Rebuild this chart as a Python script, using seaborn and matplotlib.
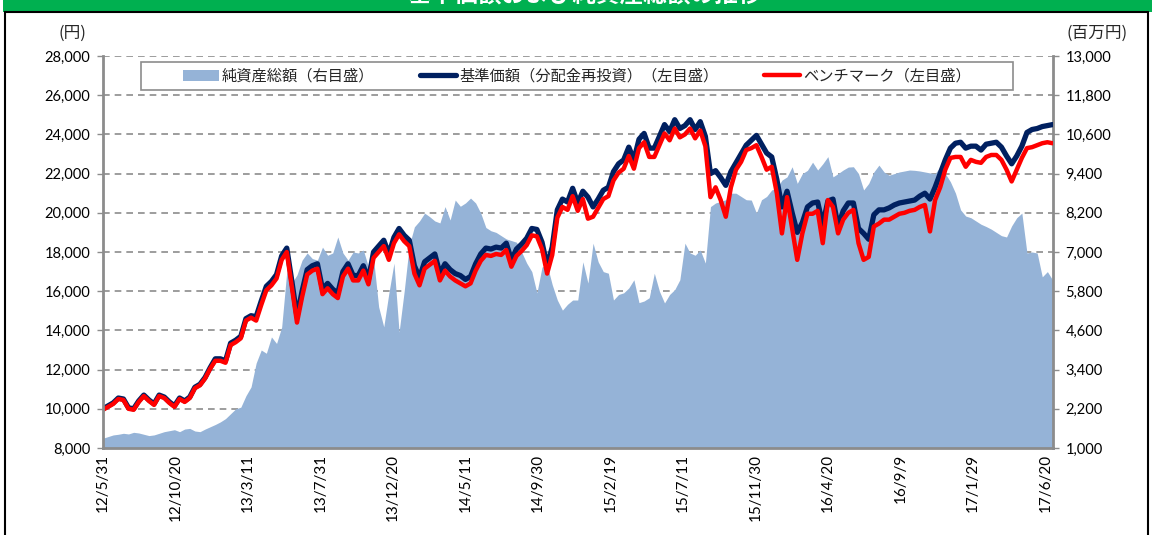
import pandas as pd
import numpy as np
import matplotlib
matplotlib.use('Agg')
import matplotlib.pyplot as plt
from matplotlib.patches import Rectangle
from matplotlib.font_manager import FontProperties
import seaborn as sns

# values, one point every 10 days from 2012/5/31
start_date = '2012-05-31'

# 純資産総額 (百万円, right axis)
nav_total = [1300, 1350, 1400, 1420, 1450, 1430, 1480, 1460, 1420, 1380,
             1400, 1450, 1500, 1530, 1560, 1500, 1580, 1600, 1520, 1500,
             1580, 1650, 1720, 1800, 1900, 2050, 2200, 2250, 2600, 2870,
             3600, 4000, 3900, 4400, 4200, 4700, 6400, 6050, 6300, 6750,
             6970, 6800, 6750, 7150, 6900, 6970, 7460, 6970, 6750, 7000,
             6970, 7060, 6540, 6800, 5320, 4710, 5740, 6660, 4550, 5800,
             7200, 7770, 7950, 8190, 8080, 7950, 7890, 8390, 7980, 8590,
             8400, 8500, 8650, 8500, 8190, 7750, 7650, 7600, 7500, 7400,
             7350, 7300, 7000, 6660, 6400, 5750, 6540, 6600, 6000, 5530,
             5220, 5400, 5530, 5530, 6700, 6050, 7270, 6700, 6400, 6350,
             5530, 5700, 5750, 5900, 6150, 5450, 5500, 5600, 6350, 5800,
             5440, 5700, 5850, 6150, 7270, 6970, 6900, 7060, 6660, 8390,
             8500, 8550, 8600, 8800, 8800, 8700, 8600, 8590, 8190, 8600,
             8700, 8900, 8950, 9200, 9300, 9610, 9100, 9400, 9500, 9750,
             9510, 9700, 9920, 9300, 9400, 9510, 9600, 9610, 9400, 8900,
             9100, 9450, 9660, 9450, 9350, 9400, 9450, 9480, 9510, 9500,
             9480, 9450, 9420, 9400, 9610, 9400, 9150, 8800, 8290, 8100,
             8050, 7950, 7850, 7780, 7700, 7600, 7500, 7460, 7800, 8050,
             8190, 6970, 7000, 6970, 6240, 6400, 6150]

# 基準価額(分配金再投資) (円, left axis)
base_price = [10000, 10150, 10300, 10550, 10500, 10050, 10000, 10400, 10700, 10450,
              10250, 10700, 10600, 10350, 10150, 10550, 10400, 10600, 11100, 11250,
              11600, 12100, 12550, 12550, 12450, 13350, 13500, 13700, 14600, 14750,
              14700, 15500, 16250, 16500, 16850, 17800, 18200, 16500, 14700, 16000,
              17100, 17300, 17400, 16100, 16400, 16100, 15900, 17000, 17400, 16800,
              16800, 17300, 16600, 18000, 18300, 18600, 17900, 18750, 19200, 18850,
              18600, 17300, 16700, 17500, 17700, 17900, 16900, 17400, 17100, 16900,
              16800, 16600, 16750, 17400, 17900, 18200, 18150, 18250, 18200, 18450,
              17600, 18150, 18400, 18700, 19200, 19150, 18500, 17300, 18250, 20150,
              20700, 20550, 21250, 20500, 21100, 20800, 20300, 20700, 21150, 21300,
              22100, 22500, 22700, 23350, 22700, 23750, 24050, 23300, 23300, 23900,
              24500, 24150, 24750, 24300, 24450, 24750, 24250, 24650, 23900, 22000,
              22150, 21800, 21400, 22100, 22550, 23000, 23450, 23700, 23950, 23500,
              23050, 22850, 21700, 20300, 21100, 20000, 19000, 19500, 20300, 20500,
              20550, 19400, 20600, 20700, 19300, 20100, 20500, 20500, 19200, 18950,
              18650, 19900, 20150, 20150, 20250, 20400, 20500, 20550, 20600, 20650,
              20850, 21000, 20700, 21300, 22000, 22700, 23300, 23550, 23600, 23300,
              23400, 23400, 23200, 23500, 23550, 23600, 23350, 22900, 22500, 22900,
              23400, 24100, 24250, 24300, 24400, 24450, 24500]

# ベンチマーク (円, left axis)
benchmark = [9950, 10100, 10250, 10500, 10450, 10000, 9950, 10350, 10650, 10400,
             10200, 10650, 10550, 10300, 10100, 10500, 10350, 10550, 11050, 11200,
             11550, 12050, 12450, 12450, 12350, 13250, 13400, 13600, 14500, 14650,
             14500, 15300, 16050, 16300, 16650, 17600, 18000, 16200, 14400, 15700,
             16850, 17050, 17150, 15850, 16150, 15850, 15650, 16750, 17150, 16550,
             16550, 17050, 16350, 17700, 18000, 18300, 17600, 18450, 18900, 18550,
             18300, 16900, 16300, 17150, 17350, 17550, 16550, 17050, 16750, 16550,
             16400, 16250, 16400, 17050, 17550, 17850, 17800, 17900, 17850, 18100,
             17250, 17800, 18050, 18350, 18850, 18800, 18150, 16900, 17850, 19750,
             20300, 20150, 20850, 20100, 20700, 19700, 19800, 20250, 20700, 20850,
             21650, 22050, 22250, 22900, 22250, 23300, 23600, 22850, 22850, 23450,
             24050, 23700, 24300, 23850, 24000, 24300, 23800, 24200, 23400, 20800,
             21300, 20650, 19800, 21300, 22200, 22600, 23200, 23300, 23450, 22850,
             22200, 22350, 21000, 18950, 20800, 19200, 17600, 18950, 19950, 19950,
             20100, 18450, 20650, 20300, 18950, 19650, 20000, 20150, 18450, 17600,
             17750, 19300, 19450, 19650, 19650, 19800, 19950, 20000, 20100, 20150,
             20300, 20400, 19050, 20650, 21300, 22200, 22800, 22850, 22850, 22350,
             22700, 22600, 22550, 22850, 22950, 22950, 22700, 22200, 21600, 22200,
             22800, 23300, 23350, 23450, 23550, 23600, 23550]

tick_dates = ['2012-05-31', '2012-10-20', '2013-03-11', '2013-07-31', '2013-12-20',
              '2014-05-11', '2014-09-30', '2015-02-19', '2015-07-11', '2015-11-30',
              '2016-04-20', '2016-09-09', '2017-01-29', '2017-06-20']
tick_labels = ['12/5/31', '12/10/20', '13/3/11', '13/7/31', '13/12/20',
               '14/5/11', '14/9/30', '15/2/19', '15/7/11', '15/11/30',
               '16/4/20', '16/9/9', '17/1/29', '17/6/20']

legend_labels = ['純資産総額（右目盛）', '基準価額（分配金再投資）（左目盛）', 'ベンチマーク（左目盛）']
title = '基準価額および純資産総額の推移'

df = pd.DataFrame({
    'date': pd.date_range(start_date, periods=len(base_price), freq='10D'),
    'nav': nav_total,
    'base': base_price,
    'bench': benchmark,
})

sns.set_theme(style='white')
plt.rcParams['font.family'] = ['Lato', 'Noto Sans CJK JP', 'DejaVu Sans']
jp = ['Noto Sans CJK JP', 'DejaVu Sans']

fig = plt.figure(figsize=(11.52, 5.35), dpi=100)
fig.patch.set_facecolor('white')

ax = fig.add_axes([103 / 1152, 1 - 448 / 535, 950 / 1152, 392 / 535])
ax2 = ax.twinx()
ax.set_zorder(ax2.get_zorder() + 1)
ax.patch.set_visible(False)
ax2.patch.set_facecolor('white')

# area on the right axis
ax2.fill_between(df['date'], 1000, df['nav'], color='#95B3D7', lw=0,
                 label=legend_labels[0])
ax2.set_ylim(1000, 13000)
ax2.set_yticks(np.arange(1000, 13001, 1200))
ax2.set_yticklabels(['{:,}'.format(v) for v in np.arange(1000, 13001, 1200)])
ax2.set_axisbelow(True)
ax2.yaxis.grid(True, ls=(0, (4, 3)), color='#8c8c8c', lw=1.2)
ax2.xaxis.grid(False)

# lines on the left axis
sns.lineplot(data=df, x='date', y='base', ax=ax, color='#002060', lw=3.8,
             label=legend_labels[1], legend=False)
sns.lineplot(data=df, x='date', y='bench', ax=ax, color='#FF0000', lw=3.2,
             label=legend_labels[2], legend=False)
ax.set_ylim(8000, 28000)
ax.set_yticks(np.arange(8000, 28001, 2000))
ax.set_yticklabels(['{:,}'.format(v) for v in np.arange(8000, 28001, 2000)])
ax.set_xlim(pd.Timestamp('2012-05-31'), pd.Timestamp('2017-07-05'))
ax.set_xticks(pd.to_datetime(tick_dates))
ax.set_xticklabels(tick_labels, rotation=90)
ax.set_xlabel('')
ax.set_ylabel('')
ax2.set_ylabel('')

for a in (ax, ax2):
    for s in a.spines.values():
        s.set_visible(False)
ax.spines['left'].set_visible(True)
ax.spines['bottom'].set_visible(True)
ax2.spines['right'].set_visible(True)
for s in (ax.spines['left'], ax.spines['bottom'], ax2.spines['right']):
    s.set_color('#8c8c8c')
    s.set_linewidth(2)

ax.tick_params(axis='y', direction='out', length=4, width=1, color='#8c8c8c',
               labelsize=10.5, pad=5, left=True)
ax2.tick_params(axis='y', direction='out', length=4, width=1, color='#8c8c8c',
                labelsize=10.5, pad=5, right=True)
ax.tick_params(axis='x', length=0, labelsize=11, pad=4)
for lab in ax.get_yticklabels() + ax2.get_yticklabels() + ax.get_xticklabels():
    lab.set_color('black')

# legend: frameless entries inside a drawn box
ax.add_patch(Rectangle(((141 - 103) / 950, 1 - (90 - 56) / 392), 872 / 950, 28 / 392,
                       transform=ax.transAxes, facecolor='white', edgecolor='#8c8c8c',
                       lw=1.2, zorder=4))
h1, l1 = ax2.get_legend_handles_labels()
h2, l2 = ax.get_legend_handles_labels()
leg = ax.legend(h1 + h2, l1 + l2, loc='center', bbox_to_anchor=(0.499, 1 - (76 - 56) / 392),
                ncol=3, frameon=False, prop=FontProperties(family=jp, size=11),
                handlelength=2.36, handletextpad=0.2, columnspacing=3.0,
                borderpad=0, borderaxespad=0)
leg.set_zorder(5)

# unit labels
fig.text(72 / 1152, 1 - 33 / 535, '(円)', ha='center', va='center', fontsize=12, family=jp)
fig.text(1097 / 1152, 1 - 33 / 535, '(百万円)', ha='center', va='center', fontsize=12, family=jp)

# banner and outer frame
fig.patches.append(Rectangle((3 / 1152, 1 - 12 / 535), 1, 12 / 535, transform=fig.transFigure,
                             facecolor='#00B050', edgecolor='none', zorder=0))
fig.patches.append(Rectangle((5 / 1152, -0.1), 1143 / 1152, 1.1 - 12 / 535,
                             transform=fig.transFigure, facecolor='none',
                             edgecolor='black', lw=1.5, zorder=5))
fig.text(585 / 1152, 1 - 7 / 535, title, ha='center', va='bottom', color='white',
         fontsize=17, fontweight='bold', family=jp)

fig.savefig('out.png', dpi=100)
